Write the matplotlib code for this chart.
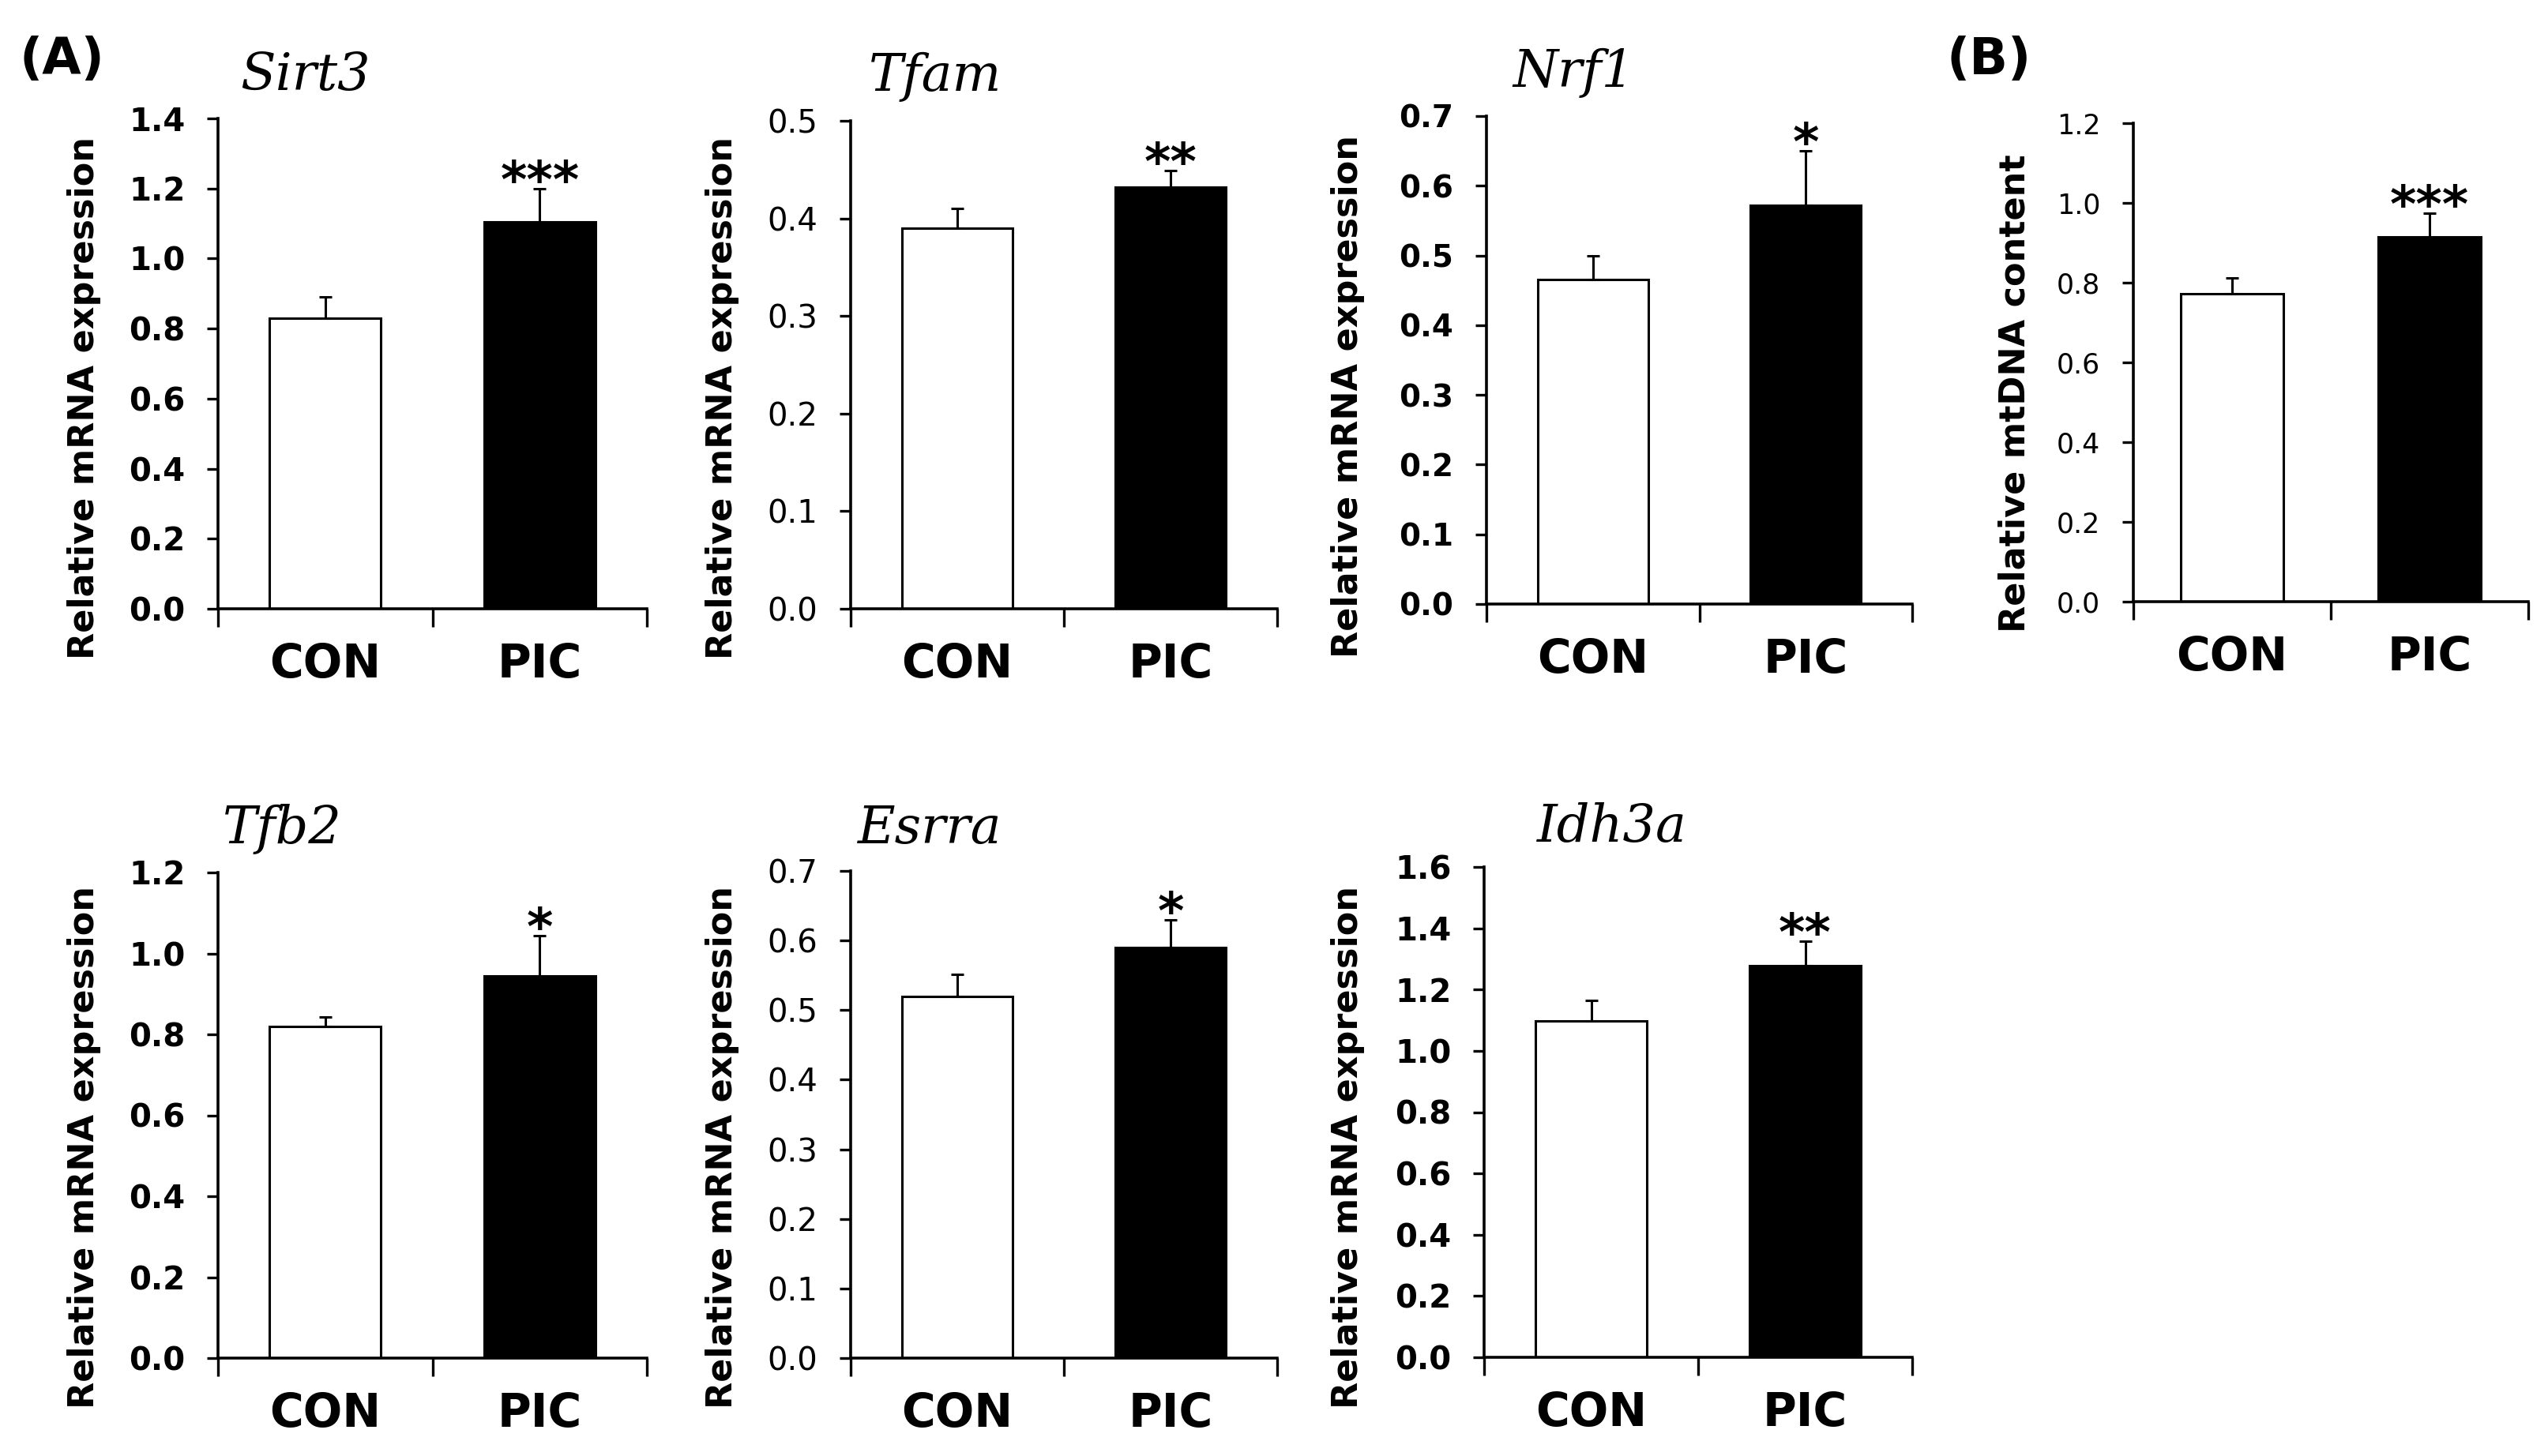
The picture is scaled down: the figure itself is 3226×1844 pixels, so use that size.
import numpy as np
import matplotlib.pyplot as plt

# groups on the x axis
groups = ['CON', 'PIC']

# values (mean, upper error bar)
sirt3_mean = [0.83, 1.105]
sirt3_err = [0.06, 0.095]
tfam_mean = [0.39, 0.432]
tfam_err = [0.02, 0.017]
nrf1_mean = [0.466, 0.572]
nrf1_err = [0.034, 0.078]
mtdna_mean = [0.773, 0.914]
mtdna_err = [0.038, 0.061]
tfb2_mean = [0.819, 0.944]
tfb2_err = [0.024, 0.10]
esrra_mean = [0.52, 0.59]
esrra_err = [0.031, 0.04]
idh3a_mean = [1.098, 1.277]
idh3a_err = [0.067, 0.08]

W, H = 3226, 1844
fig = plt.figure(figsize=(W / 100, H / 100), dpi=100)


def px_axes(l, r, t, b):
    # axes from pixel box (left, right, top, bottom)
    return fig.add_axes([l / W, 1 - b / H, (r - l) / W, (b - t) / H])


def draw(ax, means, errs, stars, ymax, step, ylabel, label_xy, title=None,
         title_xy=None, tick_weight='bold', tick_size=29):
    x = np.arange(len(groups))
    ax.bar(x, means, width=0.52, color=['white', 'black'],
           edgecolor='black', linewidth=2.2, zorder=2)
    ax.errorbar(x, means, yerr=[np.zeros(len(x)), errs], fmt='none',
                ecolor='black', elinewidth=2.2, capsize=5.5, capthick=2.2,
                zorder=3)

    ax.set_xlim(-0.5, 1.5)
    ax.set_ylim(0, ymax)
    for s in ['top', 'right']:
        ax.spines[s].set_visible(False)
    for s in ['left', 'bottom']:
        ax.spines[s].set_linewidth(2.6)

    yt = np.arange(0, ymax + step / 2, step)
    ax.set_yticks(yt)
    ax.set_yticklabels(['%.1f' % v for v in yt], fontsize=tick_size,
                       fontweight=tick_weight)
    ax.tick_params(axis='y', direction='out', length=10, width=2.4, pad=20)

    # boundary ticks on the x axis, labels centred on the bars
    ax.set_xticks([-0.5, 0.5, 1.5])
    ax.set_xticklabels([])
    ax.tick_params(axis='x', which='major', direction='out', length=16.5,
                   width=2.4)
    ax.set_xticks(x, minor=True)
    ax.set_xticklabels(groups, minor=True, fontsize=42, fontweight='bold')
    ax.tick_params(axis='x', which='minor', length=0, pad=30)

    ax.set_ylabel(ylabel, fontsize=32, fontweight='bold', va='center',
                  ha='center')
    ax.yaxis.set_label_coords(label_xy[0] / W, 1 - label_xy[1] / H,
                              transform=fig.transFigure)

    ax.annotate(stars, xy=(1, means[1] + errs[1]), xytext=(0, -8),
                textcoords='offset points', ha='center', va='baseline',
                fontsize=46, fontweight='bold')

    if title:
        fig.text(title_xy[0] / W, 1 - title_xy[1] / H, title,
                 family='DejaVu Serif', style='italic', fontsize=47,
                 ha='left', va='baseline')


mrna = 'Relative mRNA expression'

ax = px_axes(276, 819, 150, 771)
draw(ax, sirt3_mean, sirt3_err, '***', 1.4, 0.2, mrna, (107, 504),
     'Sirt3', (304, 114))

ax = px_axes(1077, 1617, 153, 771)
draw(ax, tfam_mean, tfam_err, '**', 0.5, 0.1, mrna, (915, 504),
     'Tfam', (1100, 115), tick_weight='normal')

ax = px_axes(1882, 2421, 147, 765)
draw(ax, nrf1_mean, nrf1_err, '*', 0.7, 0.1, mrna, (1707, 502),
     'Nrf1', (1915, 110), tick_size=28)

ax = px_axes(2701, 3201, 156, 762)
draw(ax, mtdna_mean, mtdna_err, '***', 1.2, 0.2, 'Relative mtDNA content',
     (2551, 498), tick_weight='normal', tick_size=25)

ax = px_axes(276, 819, 1105, 1720)
draw(ax, tfb2_mean, tfb2_err, '*', 1.2, 0.2, mrna, (107, 1453),
     'Tfb2', (282, 1068))

ax = px_axes(1077, 1617, 1103, 1720)
draw(ax, esrra_mean, esrra_err, '*', 0.7, 0.1, mrna, (915, 1453),
     'Esrra', (1086, 1068), tick_weight='normal')

ax = px_axes(1879, 2421, 1098, 1719)
draw(ax, idh3a_mean, idh3a_err, '**', 1.6, 0.2, mrna, (1707, 1453),
     'Idh3a', (1946, 1066))

# panel letters
fig.text(25 / W, 1 - 76 / H, '(A)', fontsize=46, fontweight='bold',
         ha='left', va='center')
fig.text(2464 / W, 1 - 76 / H, '(B)', fontsize=46, fontweight='bold',
         ha='left', va='center')

fig.savefig('out.png', dpi=100, facecolor='white')
